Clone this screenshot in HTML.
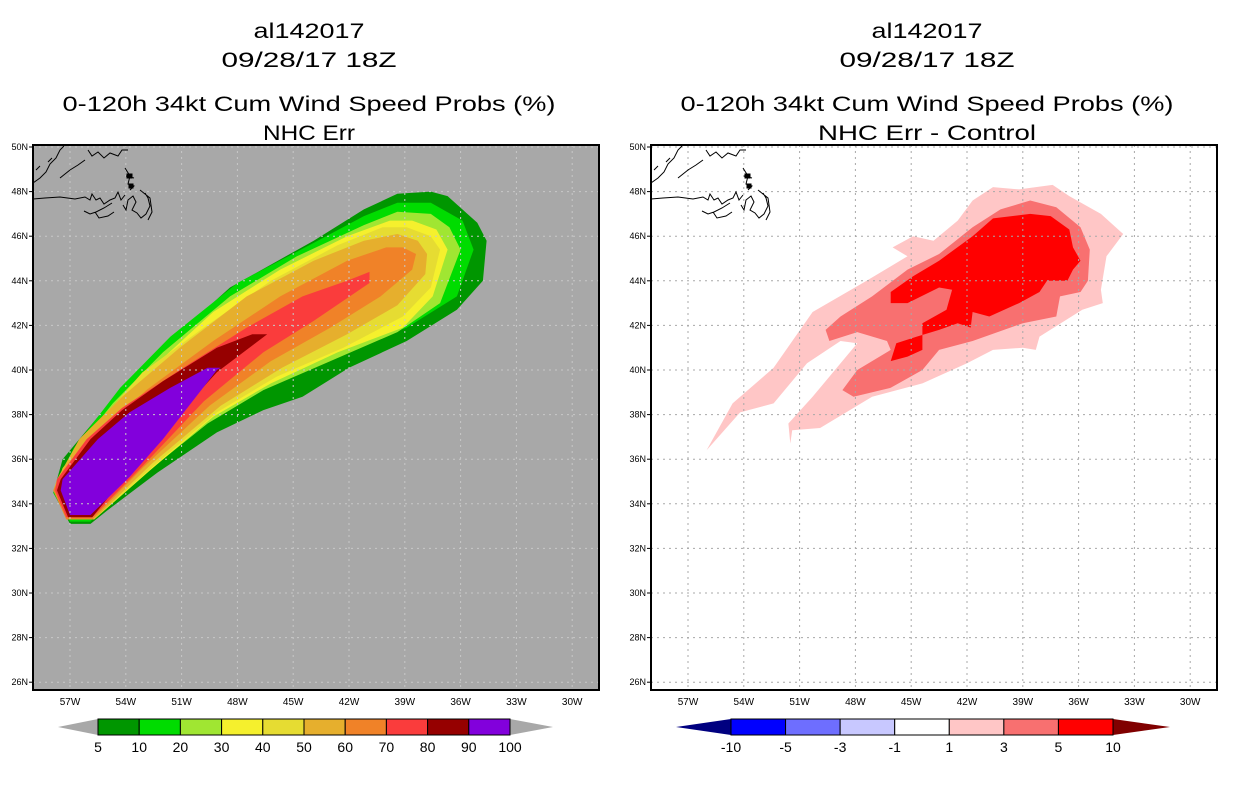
<!DOCTYPE html>
<html><head><meta charset="utf-8"><style>
html,body{margin:0;padding:0;background:#fff}
svg{display:block}
text{font-family:"Liberation Sans",sans-serif}
</style></head><body>
<svg id="chart" width="1236" height="800" viewBox="0 0 1236 800" xmlns="http://www.w3.org/2000/svg">
<g id="root"></g>
</svg>
<script>
// ---- axis data ----
const latTicks = [50,48,46,44,42,40,38,36,34,32,30,28,26];
const lonTicks = [-57,-54,-51,-48,-45,-42,-39,-36,-33,-30];
const leftLevels = [5,10,20,30,40,50,60,70,80,90,100];
const leftColors = ["#009600","#00dc00","#a0e632","#f5f02d","#e6dc32","#e6af2d","#f08228","#fa3c3c","#960000","#8200dc"];
const rightLevels = [-10,-5,-3,-1,1,3,5,10];
const rightColors = ["#0000ff","#6e6eff","#c8c8ff","#ffffff","#ffc6c6","#f87070","#ff0000"];
// ---- left panel contour polygons [lon,lat] ----
const p5 = [[-57.9,34.5],[-57,33.1],[-55.9,33.1],[-55,33.7],[-52.3,35.4],[-49.1,37.2],[-46.6,38.2],[-44.5,38.8],[-42,40.1],[-38.9,41.3],[-36.2,42.7],[-34.8,44.0],[-34.6,45.8],[-35.1,46.6],[-36.7,47.8],[-37.6,48.0],[-39.4,47.9],[-41.2,47.2],[-43.9,45.8],[-48.4,43.7],[-52,41.0],[-54.7,38.7],[-57.4,36.0]];
const p10 = [[-57.9,34.5],[-57,33.2],[-55.9,33.2],[-55.4,33.7],[-53.8,35.1],[-50.5,37.2],[-48,38.5],[-44.8,40.0],[-42,41.0],[-38.9,41.9],[-36.2,43.3],[-35.3,45.4],[-35.9,46.7],[-37.6,47.5],[-39.4,47.5],[-41.2,46.9],[-43.9,45.7],[-48,43.9],[-51.6,41.5],[-54.3,39.2],[-56.8,36.5],[-57.6,35.2]];
const p20 = [[-57.7,34.7],[-57.1,33.3],[-55.7,33.3],[-52.9,35.4],[-49.6,37.6],[-46.6,39.1],[-43,40.4],[-39.4,41.7],[-37.1,43.0],[-36,45.4],[-36.6,46.4],[-37.6,47.0],[-39.4,47.1],[-41.2,46.5],[-44.8,45.1],[-48.4,43.3],[-52,40.8],[-54.7,38.5],[-57,36.1]];
const p30 = [[-57.8,34.6],[-57.1,33.3],[-55.7,33.3],[-52.7,35.5],[-49.3,37.9],[-46.2,39.4],[-42.6,40.8],[-39.1,41.9],[-37.5,43.3],[-36.7,45.4],[-37.3,46.3],[-38.6,46.7],[-39.8,46.7],[-42.1,46.0],[-45.7,44.5],[-49.3,42.6],[-52.3,40.3],[-55,38.1],[-57.2,35.8]];
const p40 = [[-57.8,34.6],[-57.1,33.3],[-55.7,33.3],[-52.5,35.7],[-49.1,38.1],[-45.9,39.7],[-42.3,41.0],[-39.1,42.4],[-37.6,43.7],[-37.1,45.4],[-37.6,46.0],[-38.9,46.4],[-40.2,46.4],[-42.6,45.6],[-46.2,44.0],[-49.8,41.9],[-53.1,39.9],[-55.5,37.6],[-57.4,35.6]];
const p50 = [[-57.9,34.6],[-57.2,33.3],[-55.7,33.3],[-52.6,35.8],[-48.9,38.4],[-45.6,40.1],[-42.1,41.6],[-39.4,42.9],[-37.9,44.3],[-37.8,45.2],[-38.3,45.8],[-39.4,46.1],[-41.2,45.8],[-43.9,44.9],[-47.5,43.3],[-51.1,41.0],[-54.2,38.8],[-56.5,36.9],[-57.7,35.1]];
const p60 = [[-57.9,34.6],[-57.2,33.3],[-55.8,33.3],[-53.1,35.6],[-49.5,38.4],[-46.2,40.4],[-43.0,41.9],[-40.3,43.3],[-38.6,44.5],[-38.4,45.2],[-39.1,45.5],[-40,45.5],[-42.1,44.9],[-45.7,43.3],[-49.3,41.3],[-52.9,39.1],[-55.5,37.1],[-57.6,35.1]];
const p70 = [[-57.8,34.6],[-57.2,33.4],[-55.8,33.4],[-53.2,35.6],[-49.8,38.6],[-46.6,40.8],[-43.9,42.2],[-40.9,43.9],[-40.9,44.4],[-42.1,44.0],[-44.5,43.3],[-47.5,41.9],[-51.1,40.0],[-54.2,38.3],[-56.1,36.9],[-57.7,35.1]];
const p80 = [[-57.7,34.6],[-57.1,33.4],[-55.8,33.4],[-52.7,36.6],[-49.1,39.9],[-46.4,41.6],[-47.2,41.6],[-49.1,41.0],[-52,39.5],[-54.2,38.2],[-55.9,36.9],[-57.5,35.1]];
const p90 = [[-57.5,34.6],[-57,33.5],[-55.9,33.5],[-53.8,35.2],[-52,36.9],[-49.1,40.0],[-48.9,40.1],[-49.6,40.1],[-51.6,39.2],[-53.8,38.1],[-55.5,36.9],[-57.4,35.1]];
const leftPolys = [p5,p10,p20,p30,p40,p50,p60,p70,p80,p90];
// ---- right panel contour polygons [lon,lat] ----
const q1 = [[-56,36.4],[-54.6,38.5],[-52.4,40.1],[-50.3,42.6],[-47.4,44.0],[-45.2,45.1],[-46,45.5],[-44.9,46.0],[-43.8,45.8],[-42.5,46.7],[-41.7,47.6],[-40.6,48.2],[-39.2,48.1],[-37.4,48.3],[-36.5,47.8],[-34.8,47.0],[-33.6,46.1],[-34.5,45.1],[-34.8,43.6],[-34.7,43.0],[-35.8,42.7],[-38.1,41.5],[-38.3,40.9],[-39,41.0],[-40.6,40.9],[-42,40.3],[-44.4,39.4],[-47.1,38.8],[-49.9,37.4],[-51.4,37.3],[-51.5,36.7],[-51.6,37.6],[-50.3,38.8],[-48.5,40.6],[-47.9,41.2],[-48.8,41.3],[-50.6,40.3],[-52.4,38.5],[-54.2,38.1]];
const q3 = [[-49.6,41.8],[-48.8,42.4],[-47.1,43.3],[-45.2,44.5],[-43.5,45.2],[-41.7,46.4],[-40.2,47.2],[-38.6,47.6],[-37.2,47.3],[-35.9,46.4],[-35.4,45.4],[-35.5,44.0],[-35.9,43.5],[-37,43.3],[-37.2,42.4],[-39,42.1],[-41.7,41.3],[-43.5,40.9],[-44.4,40.0],[-46.1,39.2],[-48.1,38.8],[-48.7,39.1],[-47.9,40.0],[-46.1,40.9],[-46.3,41.3],[-47.9,41.7],[-49.4,41.3]];
const q5 = [[-46.1,43.5],[-44.9,44.2],[-43.5,44.9],[-41.7,46.0],[-40.6,46.8],[-38.6,47.0],[-37.5,46.9],[-36.5,46.3],[-36.3,45.5],[-35.9,44.9],[-36.3,44.5],[-36.6,44.0],[-37.7,44.0],[-38.1,43.5],[-39.2,43.0],[-40.8,42.4],[-41.7,42.6],[-41.8,41.9],[-42.5,42.1],[-43.5,41.8],[-44.7,41.5],[-45.8,41.2],[-46.1,40.4],[-45.2,40.6],[-44.4,40.9],[-44.4,42.1],[-43.1,42.7],[-42.8,43.6],[-43.5,43.7],[-45.2,43.0],[-46.1,43.0]];
const rightPolys = [q1,q3,q5];

const NS="http://www.w3.org/2000/svg";
const root=document.getElementById('root');
function mk(tag,attrs,parent){const e=document.createElementNS(NS,tag);for(const k in attrs)e.setAttribute(k,attrs[k]);(parent||root).appendChild(e);return e;}
function txt(x,y,s,size,anchor,parent,len){const a={x:x,y:y,'font-size':size,'text-anchor':anchor||'middle',fill:'#000'};if(len){a.textLength=len;a.lengthAdjust='spacingAndGlyphs';}const t=mk('text',a,parent);t.textContent=s;return t;}

const BOX_T=145,BOX_B=690;
function yScale(lat){return 147+(50-lat)*22.3;}
function makeX(x57){return lon=>x57+(lon+57)*18.6;}

function panel(id,boxL,x57,bg,polys,colors,sub,subLen,gridCol){
  const g=mk('g',{});
  
  
  const xs=makeX(x57);
  const boxR=boxL+566;
  const cx=(boxL+boxR)/2-7;
  const t1=txt(cx,38,'al142017',21,'middle',g,111);
  
  const t2=txt(cx,67,'09/28/17 18Z',21,'middle',g,175);
  
  const t3=txt(cx,111,'0-120h 34kt Cum Wind Speed Probs (%)',21,'middle',g,493);
  
  const t4=txt(cx,140,sub,21,'middle',g,subLen);
  
  const clipId='clip-'+id;
  const cp=mk('clipPath',{id:clipId},g);mk('rect',{x:boxL,y:BOX_T,width:566,height:BOX_B-BOX_T},cp);
  const bgr=mk('rect',{x:boxL,y:BOX_T,width:566,height:BOX_B-BOX_T,fill:bg},g);
  
  const cg=mk('g',{'clip-path':'url(#'+clipId+')'},g);
  polys.forEach((p,i)=>{
    const el=mk('polygon',{points:p.map(d=>xs(d[0]).toFixed(1)+','+yScale(d[1]).toFixed(1)).join(' '),fill:colors[i]},cg);
    
    
  });
  lonTicks.forEach(l=>{const ln=mk('line',{x1:xs(l),x2:xs(l),y1:BOX_T,y2:BOX_B,stroke:gridCol,'stroke-width':1,'stroke-dasharray':'2,4'},cg);
    
    const lb=txt(xs(l),705,(-l)+'W',10,'middle',g);});
  latTicks.forEach(l=>{const ln=mk('line',{x1:boxL,x2:boxR,y1:yScale(l),y2:yScale(l),stroke:gridCol,'stroke-width':1,'stroke-dasharray':'2,4'},cg);
    
    mk('line',{x1:boxL-4,x2:boxL,y1:yScale(l),y2:yScale(l),stroke:'#000'},g);
    const lb=txt(boxL-5,yScale(l)+3,l+'N',9,'end',g);});
  const c=mk('g',{fill:'none',stroke:'#000','stroke-width':1,transform:'translate('+(boxL-33)+',0)'},cg);
  
  mk('path',{d:'M33,199 L45,198 L60,197 L75,199 L85,197 L90,200 L92,194 L96,200 L100,198 L104,204 L110,200 L115,198 L118,192 L121,200 L125,195 M84,211 L90,214 L96,212 L104,208 L112,203 M123,205 L126,210 L128,200 L133,196 L136,202 L132,210 L137,213 L141,218 L146,214 L150,206 L148,198 L145,193 M140,190 L150,198 L152,212 L148,220 M95,212 L99,218 L108,216 L114,212'},c);
  mk('path',{d:'M33,183 L40,178 L46,172 L50,164 L56,158 L60,150 L64,146 M36,170 L40,166 M48,162 L52,158 M60,178 L70,170 L78,165 L85,160 M88,150 L92,156 L98,152 L104,158 L110,153 L118,156 L122,150 L128,150 M125,168 L130,176 L128,184 L134,186 L130,190 M126,176 L134,178'},c);
  mk('rect',{x:127,y:174,width:5,height:4,fill:'#000'},c);
  mk('rect',{x:129,y:184,width:4,height:4,fill:'#000'},c);
  const fr=mk('rect',{x:boxL,y:BOX_T,width:566,height:BOX_B-BOX_T,fill:'none',stroke:'#000','stroke-width':2},g);
  
}
panel('left',33,70,'#a8a8a8',leftPolys,leftColors,'NHC Err',92,'#c8c8c8');
panel('right',651,688,'#ffffff',rightPolys,[rightColors[4],rightColors[5],rightColors[6]],'NHC Err - Control',218,'#a8a8a8');

function colorbar(name,x0,x1,cols,labels,triL,triR,tl,tr){
  const g=mk('g',{});
  
  
  const y0=719,y1=735,ym=727,w=(x1-x0)/cols.length;
  const a=mk('polygon',{points:`${tl},${ym} ${x0},${y0} ${x0},${y1}`,fill:triL},g);
  
  const b=mk('polygon',{points:`${tr},${ym} ${x1},${y0} ${x1},${y1}`,fill:triR},g);
  
  cols.forEach((c,i)=>{const r=mk('rect',{x:x0+i*w,y:y0,width:w,height:y1-y0,fill:c,stroke:'#000','stroke-width':1},g);
    });
  labels.forEach((l,i)=>{const t=txt(x0+i*w,752,String(l),14,'middle',g);
    });
}
colorbar('left-colorbar',98,510,leftColors,leftLevels,'#a8a8a8','#a8a8a8',58,553);
colorbar('right-colorbar',731,1113,rightColors,rightLevels,'#000080','#800000',676,1170);
</script>
</body></html>
